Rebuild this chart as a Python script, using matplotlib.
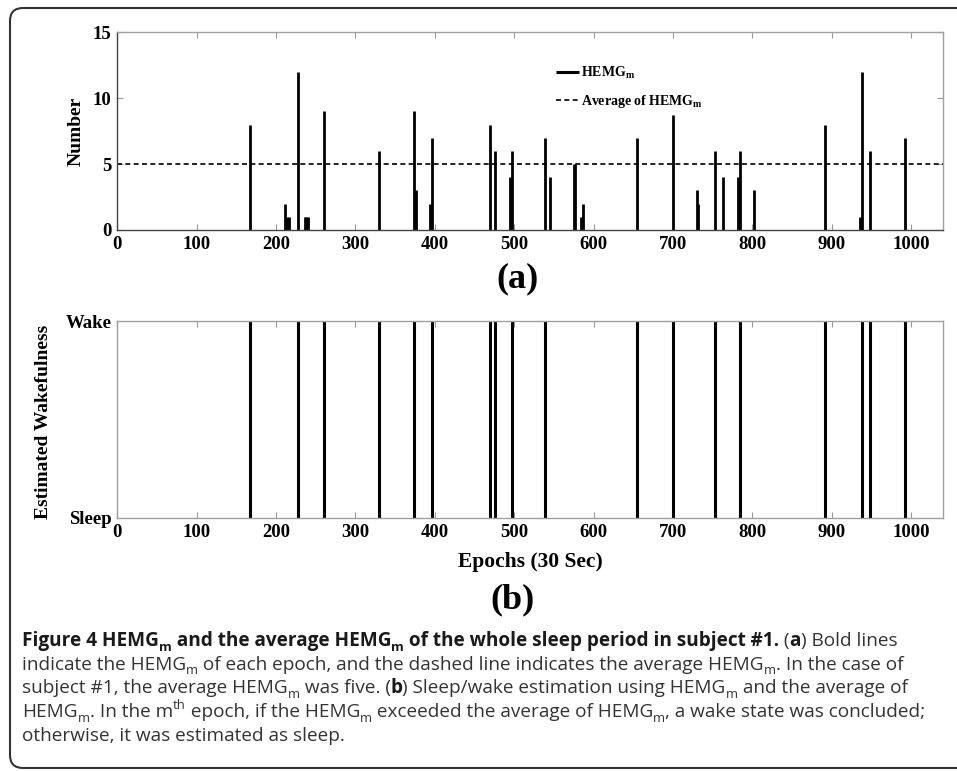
import matplotlib
matplotlib.use('agg')
import matplotlib.pyplot as plt
from matplotlib.font_manager import FontProperties
from matplotlib.patches import FancyBboxPatch

# epochs with non-zero HEMG_m and their values
epochs = [167, 211, 214, 216, 228, 236, 238, 240, 260, 330, 374, 376, 394, 396,
          469, 476, 495, 497, 539, 545, 575, 577, 584, 586, 655, 700, 730, 731,
          753, 763, 782, 784, 802, 891, 936, 938, 948, 992]
hemg = [8, 2, 1, 1, 12, 1, 1, 1, 9, 6, 9, 3, 2, 7,
        8, 6, 4, 6, 7, 4, 5, 5, 1, 2, 7, 8.7, 3, 2,
        6, 4, 4, 6, 3, 8, 1, 12, 6, 7]
hemg_avg = 5
x_ticks = list(range(0, 1001, 100))
y_ticks = [0, 5, 10, 15]
state_labels = ['Sleep', 'Wake']

# wake epochs: HEMG_m above the average
wake = [e for e, h in zip(epochs, hemg) if h > hemg_avg]

W, H, DPI = 957, 771, 100
serif = 'Liberation Serif'
cap_font = 'Open Sans'

plt.rcParams['mathtext.fontset'] = 'custom'
plt.rcParams['mathtext.rm'] = 'Liberation Serif:bold'
plt.rcParams['mathtext.it'] = 'Liberation Serif:bold'
plt.rcParams['mathtext.bf'] = 'Liberation Serif:bold'

fig = plt.figure(figsize=(W / DPI, H / DPI), dpi=DPI)

def px(x, y):
    return x / W, 1 - y / H

def style_axes(ax, dark_lb):
    ax.set_xlim(0, 1040)
    ax.set_xticks(x_ticks)
    ax.tick_params(direction='in', length=4, width=0.8, color='#999999',
                   top=True, labelsize=13.5, pad=4)
    for lab in ax.get_xticklabels() + ax.get_yticklabels():
        lab.set_fontfamily(serif)
        lab.set_fontweight('bold')
    for side, sp in ax.spines.items():
        sp.set_linewidth(1.0)
        if dark_lb and side in ('left', 'bottom'):
            sp.set_color('#444444')
        else:
            sp.set_color('#a0a0a0')

# ---- (a) HEMG_m per epoch ----
ax1 = fig.add_axes([117.3 / W, 1 - 230 / H, 825.7 / W, 197.7 / H])
ax1.vlines(epochs, 0, hemg, color='black', lw=2.0, label=r'HEMG$_{\mathrm{m}}$')
ax1.axhline(hemg_avg, color='black', lw=1.2, ls=(0, (3, 2)),
            label=r'Average of HEMG$_{\mathrm{m}}$')
ax1.set_ylim(0, 15)
ax1.set_yticks(y_ticks)
ax1.tick_params(right=True)
style_axes(ax1, True)
ax1.set_ylabel('Number', fontsize=14, fontweight='bold', family=serif)
ax1.yaxis.set_label_coords(-0.040, 0.5)
leg = ax1.legend(loc='upper left', bbox_to_anchor=(0.531, 0.835), frameon=False,
                 prop=dict(family=serif, weight='bold', size=10),
                 handlelength=1.7, handletextpad=0.15, labelspacing=0.85,
                 borderpad=0, borderaxespad=0)
leg.get_lines()[0].set_linewidth(2.2)

# ---- (b) estimated wakefulness ----
ax2 = fig.add_axes([117.3 / W, 1 - 518 / H, 825.7 / W, 197 / H])
ax2.vlines(wake, 0, 1, color='black', lw=2.2)
ax2.set_ylim(0, 1)
ax2.set_yticks([0, 1])
ax2.set_yticklabels(state_labels)
style_axes(ax2, False)
ax2.tick_params(axis='y', length=0)
ax2.set_ylabel('Estimated Wakefulness', fontsize=14, fontweight='bold', family=serif)
ax2.yaxis.set_label_coords(-0.079, 0.49)

fig.text(*px(530, 562), 'Epochs (30 Sec)', ha='center', va='center',
         family=serif, weight='bold', size=15.5)
fig.text(*px(517, 279), '(a)', ha='center', va='center', family=serif,
         weight='bold', size=26)
fig.text(*px(512, 600), '(b)', ha='center', va='center', family=serif,
         weight='bold', size=26)

# ---- caption ----
renderer = fig.canvas.get_renderer()

def text_width(s, fp):
    w1 = renderer.get_text_width_height_descent('x' + s + 'x', fp, ismath=False)[0]
    w0 = renderer.get_text_width_height_descent('xx', fp, ismath=False)[0]
    return w1 - w0

def run_props(st, size):
    small = 'sub' in st or 'sup' in st
    fs = size * 0.68 if small else size
    return FontProperties(family=cap_font, weight='bold' if st.startswith('b') else 'normal', size=fs)

def runs_width(runs, size):
    return sum(text_width(s, run_props(st, size)) for s, st in runs)

def draw_runs(x, y, runs, size):
    for s, st in runs:
        fp = run_props(st, size)
        dy = 0
        if 'sub' in st:
            dy = 0.25 * size * DPI / 72
        elif 'sup' in st:
            dy = -0.42 * size * DPI / 72
        color = '#1a1a1a' if st.startswith('b') else '#333333'
        fig.text(*px(x, y + dy), s, fontproperties=fp, color=color,
                 ha='left', va='baseline')
        x += text_width(s, fp)

cap_lines = [
    [('Figure 4 HEMG', 'b'), ('m', 'bsub'), (' and the average HEMG', 'b'), ('m', 'bsub'),
     (' of the whole sleep period in subject #1.', 'b'), (' (', 'r'), ('a', 'b'),
     (') Bold lines', 'r')],
    [('indicate the HEMG', 'r'), ('m', 'rsub'),
     (' of each epoch, and the dashed line indicates the average HEMG', 'r'), ('m', 'rsub'),
     ('. In the case of', 'r')],
    [('subject #1, the average HEMG', 'r'), ('m', 'rsub'), (' was five. (', 'r'), ('b', 'b'),
     (') Sleep/wake estimation using HEMG', 'r'), ('m', 'rsub'), (' and the average of', 'r')],
    [('HEMG', 'r'), ('m', 'rsub'), ('. In the m', 'r'), ('th', 'rsup'), (' epoch, if the HEMG', 'r'),
     ('m', 'rsub'), (' exceeded the average of HEMG', 'r'), ('m', 'rsub'),
     (', a wake state was concluded;', 'r')],
    [('otherwise, it was estimated as sleep.', 'r')],
]
# size the caption so the second line spans the same width as in the source
cap_size = 12 * 883 / runs_width(cap_lines[1], 12)
for i, runs in enumerate(cap_lines):
    draw_runs(22, 646 + i * 23.7, runs, cap_size)

# rounded frame around the figure panel
frame = FancyBboxPatch((0.10, 0.03), 10.0, 7.60, boxstyle='round,pad=0,rounding_size=0.13',
                       transform=fig.dpi_scale_trans, fill=False, ec='#333333', lw=1.5)
fig.patches.append(frame)

fig.savefig('out.png', dpi=DPI)
